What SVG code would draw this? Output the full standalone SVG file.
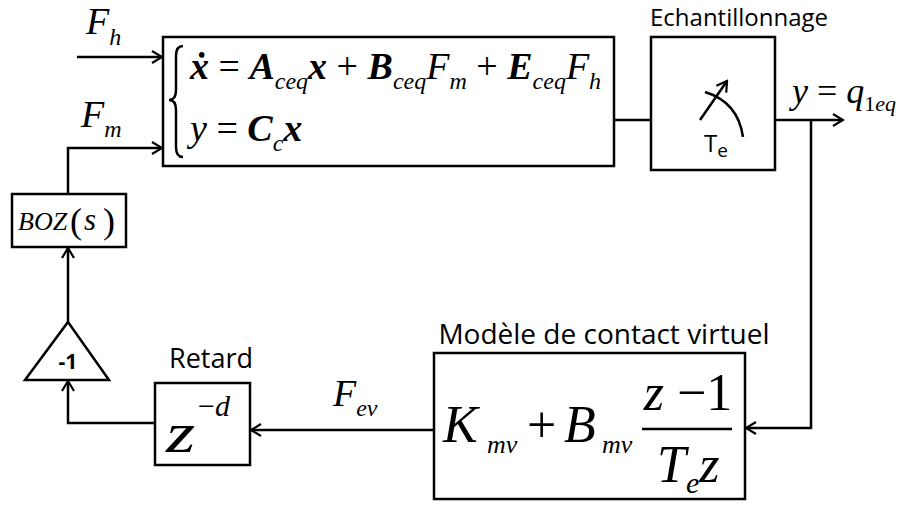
<svg xmlns="http://www.w3.org/2000/svg" width="914" height="510" viewBox="0 0 914 510">
<defs>
<marker id="ah" markerWidth="14" markerHeight="14" refX="12" refY="7" orient="auto" markerUnits="userSpaceOnUse">
<path d="M2,1 L12,7 L2,13" fill="none" stroke="#000" stroke-width="2.2"/>
</marker>
<style>
.box{fill:#fff;stroke:#000;stroke-width:2.5}
.ln{fill:none;stroke:#000;stroke-width:2.5}
.m{font-family:"Liberation Serif",serif;font-style:italic;fill:#000}
.mb{font-family:"Liberation Serif",serif;font-style:italic;font-weight:bold;fill:#000}
.r{font-family:"Liberation Serif",serif;fill:#000}
.s{font-family:"Open Sans","Liberation Sans",sans-serif;fill:#000}
</style>
</defs>
<rect width="914" height="510" fill="#fff"/>
<g id="connectors">
<line class="ln" x1="77" y1="57" x2="162" y2="57" marker-end="url(#ah)"/>
<polyline class="ln" points="68,194 68,148 162,148" marker-end="url(#ah)"/>
<line class="ln" x1="68" y1="322" x2="68" y2="248" marker-end="url(#ah)"/>
<polyline class="ln" points="155,423 68,423 68,381" marker-end="url(#ah)"/>
<line class="ln" x1="614" y1="120" x2="700" y2="120"/>
<line class="ln" x1="720" y1="120" x2="843" y2="120" marker-end="url(#ah)"/>
<polyline class="ln" points="811,120 811,428 746,428" marker-end="url(#ah)"/>
<line class="ln" x1="434" y1="430" x2="251" y2="430" marker-end="url(#ah)"/>
</g>
<g id="system">
<rect class="box" x="163" y="37" width="451" height="129"/>
<path class="ln" d="M183,46 Q176,46 176,56 L176,90 Q176,100 169,100 Q176,100 176,110 L176,147 Q176,157 183,157" stroke-width="2"/>
<text y="79" font-size="38"><tspan class="mb" x="190">ẋ</tspan><tspan class="r"> = </tspan><tspan class="mb">A</tspan><tspan class="m" font-size="24" dy="10">ceq</tspan><tspan class="mb" dy="-10">x</tspan><tspan class="r"> + </tspan><tspan class="mb">B</tspan><tspan class="m" font-size="24" dy="10">ceq</tspan><tspan class="m" dy="-10">F</tspan><tspan class="m" font-size="24" dy="10">m</tspan><tspan class="r" dy="-10"> + </tspan><tspan class="mb">E</tspan><tspan class="m" font-size="24" dy="10">ceq</tspan><tspan class="m" dy="-10">F</tspan><tspan class="m" font-size="24" dy="10">h</tspan></text>
<text y="141" font-size="38"><tspan class="m" x="190">y</tspan><tspan class="r"> = </tspan><tspan class="mb">C</tspan><tspan class="m" font-size="24" dy="10">c</tspan><tspan class="mb" dy="-10">x</tspan></text>
</g>
<g id="Fh-label"><text y="34" font-size="38"><tspan class="m" x="86">F</tspan><tspan class="m" font-size="24" dy="11">h</tspan></text></g>
<g id="Fm-label"><text y="127" font-size="38"><tspan class="m" x="81">F</tspan><tspan class="m" font-size="24" dy="10">m</tspan></text></g>
<g id="sampler">
<text class="s" x="650" y="26" font-size="24">Echantillonnage</text>
<rect class="box" x="651" y="37" width="124" height="133"/>
<line class="ln" x1="700" y1="120" x2="727" y2="81" marker-end="url(#ah)"/>
<path class="ln" d="M705,92 Q738,102 743,137"/>
<text class="s" x="704" y="152" font-size="24">T<tspan font-size="19" dy="5">e</tspan></text>
</g>
<g id="output-label"><text y="103" font-size="36"><tspan class="m" x="792">y</tspan><tspan class="r"> = </tspan><tspan class="m">q</tspan><tspan class="r" font-size="22" dy="8">1</tspan><tspan class="m" font-size="22">eq</tspan></text></g>
<g id="boz">
<rect class="box" x="12" y="194" width="114" height="53"/>
<text class="m" x="18" y="230" font-size="26">BOZ</text>
<text class="r" x="70" y="233" font-size="36">(</text>
<text class="m" x="84" y="230" font-size="31">s</text>
<text class="r" x="103" y="233" font-size="36">)</text>
</g>
<g id="gain">
<polygon class="box" points="68,322 109,380 25,380"/>
<text class="s" x="68" y="369" font-size="21" font-weight="bold" text-anchor="middle">-1</text>
</g>
<g id="retard">
<text class="s" x="211" y="368" font-size="27" text-anchor="middle">Retard</text>
<rect class="box" x="155" y="383" width="95" height="82"/>
<text class="m" x="0" y="0" font-size="58" transform="translate(166,452) scale(1.3,1)">z</text>
<text y="416" font-size="30"><tspan class="r" x="198">−</tspan><tspan class="m">d</tspan></text>
</g>
<g id="Fev-label"><text y="406" font-size="38"><tspan class="m" x="333">F</tspan><tspan class="m" font-size="24" dy="10">ev</tspan></text></g>
<g id="contact">
<text class="s" x="604" y="344" font-size="28" text-anchor="middle">Modèle de contact virtuel</text>
<rect class="box" x="434" y="353" width="311" height="146"/>
<text class="m" x="443" y="442" font-size="52">K</text>
<text class="m" x="487" y="453" font-size="26">mv</text>
<text class="r" x="527" y="442" font-size="52">+</text>
<text class="m" x="564" y="442" font-size="52">B</text>
<text class="m" x="602" y="453" font-size="26">mv</text>
<line class="ln" x1="642" y1="429" x2="732" y2="429" stroke-width="2"/>
<text y="410" font-size="52" text-anchor="middle" x="688"><tspan class="m">z</tspan><tspan class="r"> −1</tspan></text>
<text y="482" font-size="52"><tspan class="m" x="657">T</tspan><tspan class="m" font-size="30" dy="11">e</tspan><tspan class="m" dy="-11">z</tspan></text>
</g>
</svg>
